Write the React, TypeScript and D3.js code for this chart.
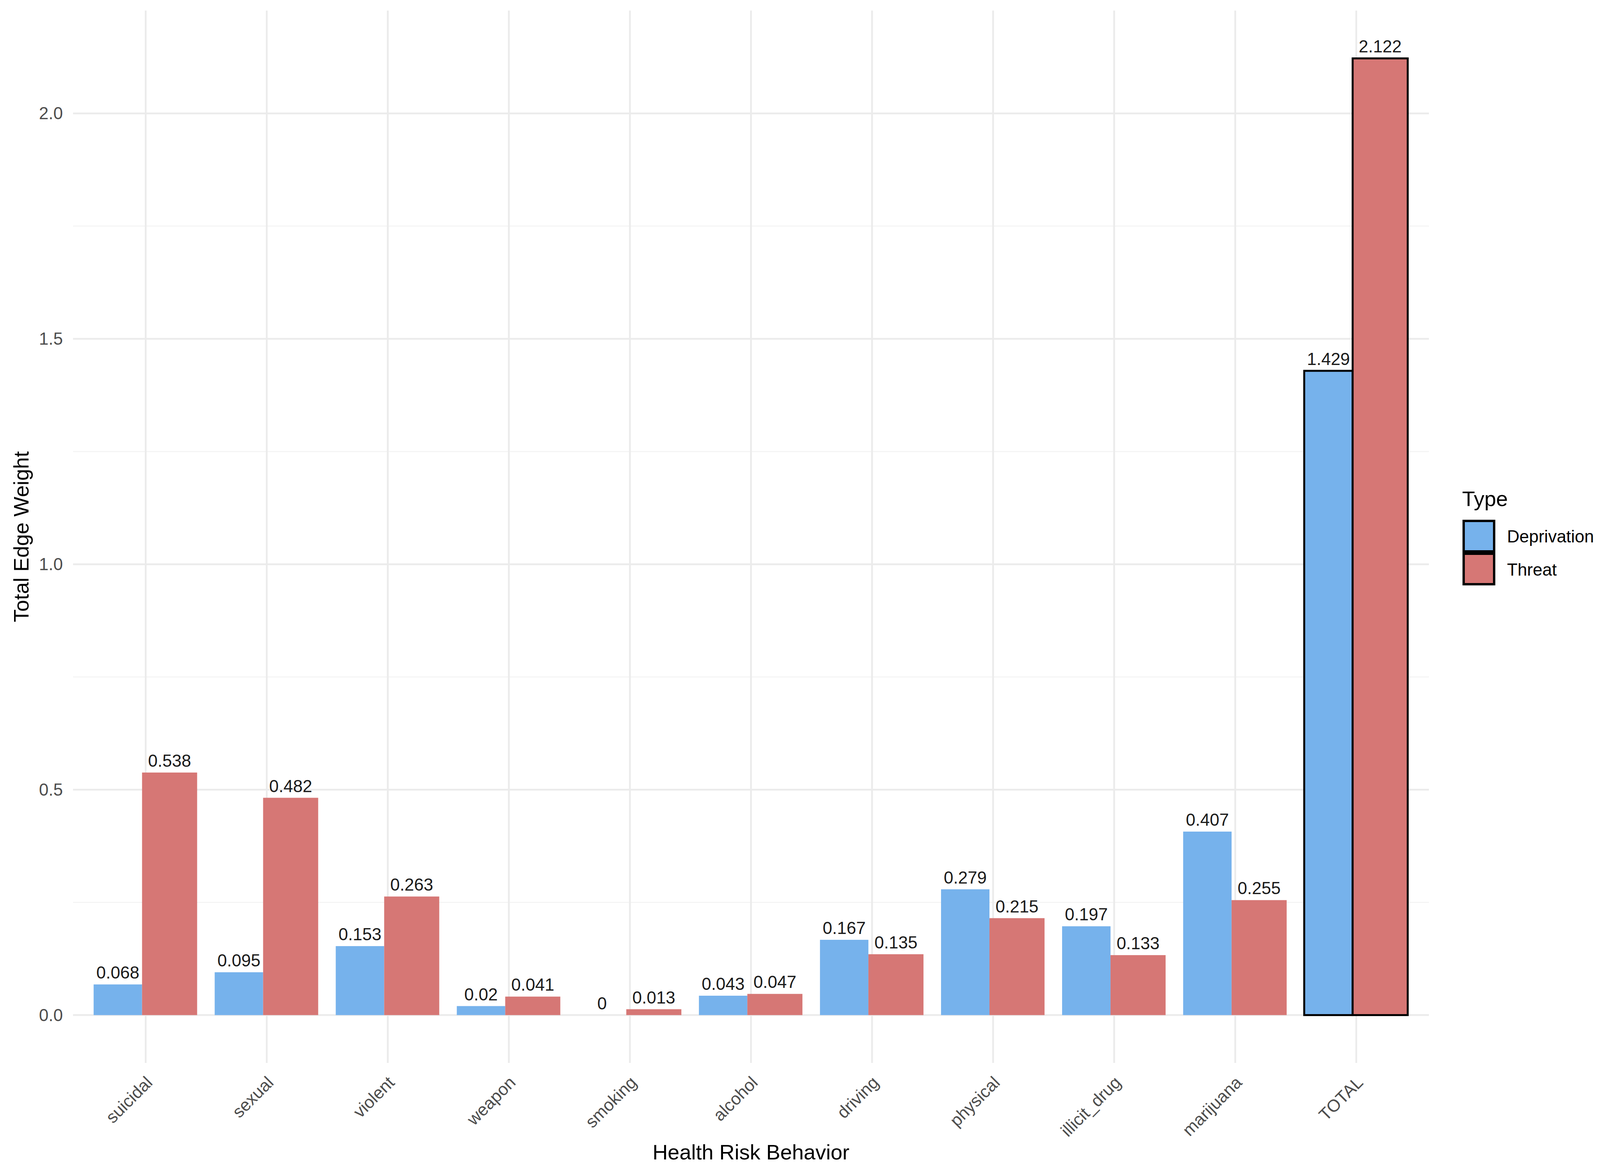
import React from 'react';
import * as d3 from 'd3';

// values
const categories = [
  'suicidal', 'sexual', 'violent', 'weapon', 'smoking', 'alcohol',
  'driving', 'physical', 'illicit_drug', 'marijuana', 'TOTAL',
];
const deprivation = [0.068, 0.095, 0.153, 0.02, 0, 0.043, 0.167, 0.279, 0.197, 0.407, 1.429];
const threat = [0.538, 0.482, 0.263, 0.041, 0.013, 0.047, 0.135, 0.215, 0.133, 0.255, 2.122];
const seriesNames = ['Deprivation', 'Threat'];
const seriesColors = ['#76B2EC', '#D67775'];
const majorTicks = [0, 0.5, 1, 1.5, 2];
const minorTicks = [0.25, 0.75, 1.25, 1.75];

const W = 4115;
const H = 2994;
const FONT = '"Liberation Sans", Arial, Helvetica, sans-serif';

export default function App() {
  const panel = { left: 187, right: 3658, top: 27, bottom: 2720 };

  // ggplot style discrete expansion: 0.6 of a step each side
  const step = (panel.right - panel.left) / (categories.length - 1 + 1.2);
  const x = d3.scalePoint<string>()
    .domain(categories)
    .range([panel.left + 0.6 * step, panel.right - 0.6 * step]);

  const maxV = d3.max(threat) || 1;
  const pad = maxV * 0.05;
  const y = d3.scaleLinear()
    .domain([-pad, maxV + pad])
    .range([panel.bottom, panel.top]);

  // bar edges relative to category centre, in steps
  const edges = [[-0.43, -0.03], [-0.03, 0.425]];

  const series = [deprivation, threat];

  return (
    <svg
      width={W}
      height={H}
      style={{ position: 'absolute', left: 0, top: 0, display: 'block', background: '#fff' }}
      fontFamily={FONT}
    >
      <rect x={0} y={0} width={W} height={H} fill="#fff" />

      {/* minor grid */}
      {minorTicks.map(t => (
        <line key={'mn' + t} x1={panel.left} x2={panel.right} y1={y(t)} y2={y(t)}
          stroke="#F3F3F3" strokeWidth={2.5} />
      ))}
      {/* major grid */}
      {majorTicks.map(t => (
        <line key={'mj' + t} x1={panel.left} x2={panel.right} y1={y(t)} y2={y(t)}
          stroke="#EBEBEB" strokeWidth={4.5} />
      ))}
      {categories.map(c => (
        <line key={'vg' + c} x1={x(c)} x2={x(c)} y1={panel.top} y2={panel.bottom}
          stroke="#EBEBEB" strokeWidth={4.5} />
      ))}

      {/* bars */}
      {categories.map((c, i) => {
        const cx = x(c) || 0;
        const isTotal = c === 'TOTAL';
        return (
          <g key={'b' + c}>
            {series.map((vals, s) => {
              const x0 = cx + edges[s][0] * step;
              const x1 = cx + edges[s][1] * step;
              const yTop = y(vals[i]);
              const y0 = y(0);
              return (
                <rect key={s} x={x0} y={yTop} width={x1 - x0} height={Math.max(0, y0 - yTop)}
                  fill={seriesColors[s]}
                  stroke={isTotal ? '#000' : 'none'}
                  strokeWidth={isTotal ? 5 : 0} />
              );
            })}
          </g>
        );
      })}

      {/* value labels */}
      {categories.map((c, i) => {
        const cx = x(c) || 0;
        return series.map((vals, s) => {
          const mid = cx + (edges[s][0] + edges[s][1]) / 2 * step;
          return (
            <text key={'v' + c + s} x={mid} y={y(vals[i]) - 15} textAnchor="middle"
              fontSize={44} fill="#1a1a1a">
              {String(vals[i])}
            </text>
          );
        });
      })}

      {/* y tick labels */}
      {majorTicks.map(t => (
        <text key={'yt' + t} x={161} y={y(t) + 15} textAnchor="end" fontSize={44} fill="#4D4D4D">
          {d3.format('.1f')(t)}
        </text>
      ))}

      {/* x tick labels */}
      {categories.map(c => {
        const ax = (x(c) || 0) + 20;
        const ay = panel.bottom + 53;
        return (
          <text key={'xt' + c} x={ax} y={ay} textAnchor="end" fontSize={44} fill="#4D4D4D"
            transform={`rotate(-45, ${ax}, ${ay})`}>
            {c}
          </text>
        );
      })}

      {/* axis titles */}
      <text x={(panel.left + panel.right) / 2} y={2967} textAnchor="middle" fontSize={54} fill="#000">
        Health Risk Behavior
      </text>
      <text x={73} y={(panel.top + panel.bottom) / 2} textAnchor="middle" fontSize={54} fill="#000"
        transform={`rotate(-90, 73, ${(panel.top + panel.bottom) / 2})`}>
        Total Edge Weight
      </text>

      {/* legend */}
      <text x={3743} y={1295} fontSize={54} fill="#000">Type</text>
      {seriesNames.map((n, s) => (
        <g key={'lg' + n}>
          <rect x={3747} y={1333 + s * 84} width={78} height={78}
            fill={seriesColors[s]} stroke="#000" strokeWidth={6} />
          <text x={3858} y={1388 + s * 85} fontSize={44} fill="#000">{n}</text>
        </g>
      ))}
    </svg>
  );
}
